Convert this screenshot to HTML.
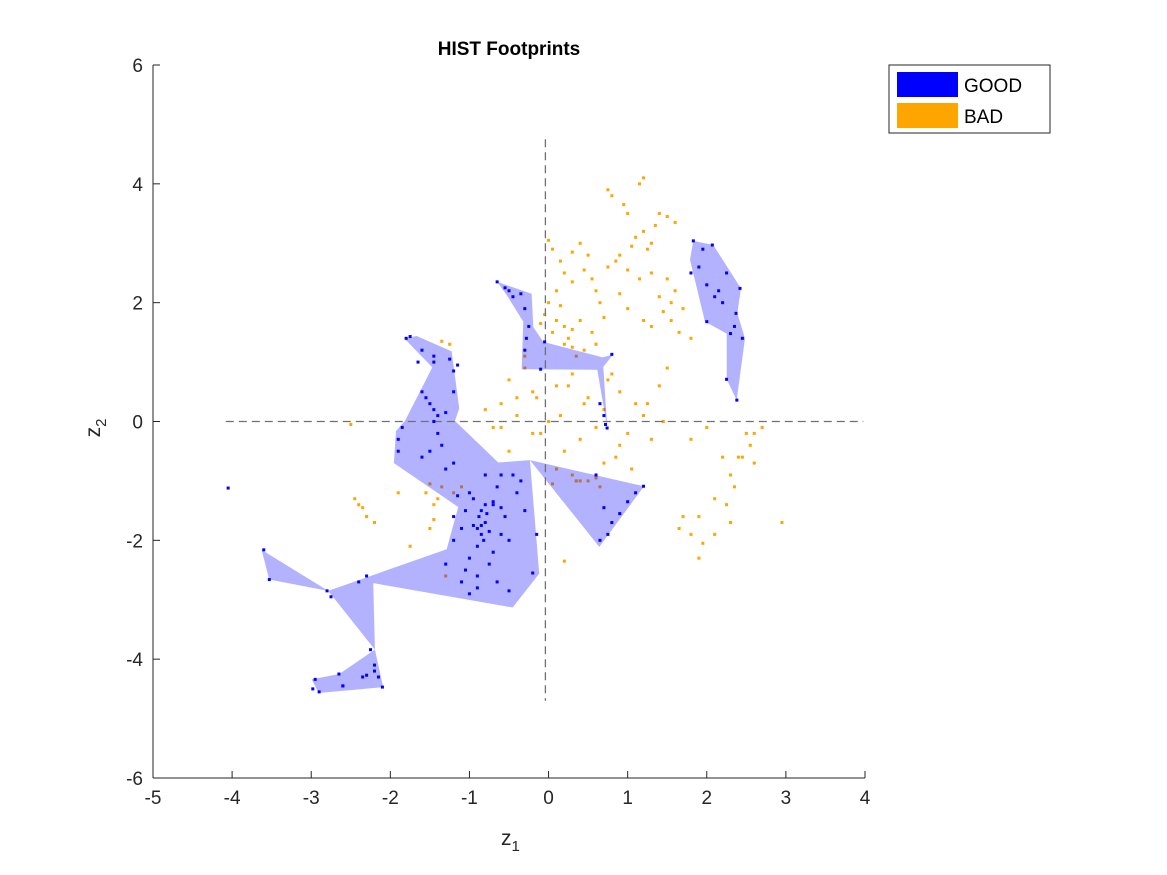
<!DOCTYPE html>
<html><head><meta charset="utf-8"><style>
html,body{margin:0;padding:0;background:#fff;}
svg{display:block;font-family:"Liberation Sans",sans-serif;}
</style></head><body>
<svg id="chart" width="1167" height="875" viewBox="0 0 1167 875">
<text x="509" y="55" text-anchor="middle" font-size="19" font-weight="bold">HIST Footprints</text>
<g id="plot"></g>
<g id="axes"></g>
<text x="501" y="845" font-size="21" fill="#262626">z<tspan font-size="15" dy="6">1</tspan></text>
<text transform="translate(100,428) rotate(-90)" font-size="21" fill="#262626" text-anchor="middle">z<tspan font-size="15" dy="6">2</tspan></text>
<g>
<rect x="889" y="65" width="161" height="68" fill="#fff" stroke="#262626" stroke-width="1"/>
<rect x="897" y="72" width="61" height="25" fill="#0000ff"/>
<text x="964" y="92" font-size="19" fill="#000">GOOD</text>
<rect x="897" y="103" width="61" height="25" fill="#ffa500"/>
<text x="964" y="123" font-size="19" fill="#000">BAD</text>
</g>
</svg>
<script>
const xTicks=[-5,-4,-3,-2,-1,0,1,2,3,4];
const yTicks=[-6,-4,-2,0,2,4,6];
const footprints=[
 [[-1.824,1.40],[-1.667,1.44],[-1.225,1.18],[-1.129,0.22],[-1.183,0.01],[-0.636,-0.69],[-0.235,-0.65],[-0.118,-2.56],[-0.454,-3.13],[-2.216,-2.72],[-2.195,-3.84],[-2.785,-2.85],[-1.288,-2.15],[-1.142,-1.44],[-1.955,-0.70],[-1.929,-0.16],[-1.815,0.01],[-1.470,0.91]],
 [[-3.627,-2.16],[-3.531,-2.66],[-2.785,-2.85]],
 [[-2.195,-3.84],[-2.09,-4.47],[-2.906,-4.57],[-2.995,-4.34],[-2.646,-4.25]],
 [[-0.649,2.35],[-0.214,2.15],[-0.193,1.59],[-0.067,1.34],[0.684,1.08],[0.818,1.13],[0.692,0.92],[0.742,-0.11],[0.616,0.87],[-0.340,0.88],[-0.320,1.68],[-0.530,2.13]],
 [[-0.235,-0.65],[1.206,-1.09],[0.641,-2.11]],
 [[1.829,3.04],[2.082,2.97],[2.432,2.24],[2.386,1.82],[2.483,1.40],[2.378,0.36],[2.252,0.71],[2.252,1.48],[1.977,1.68],[1.788,2.72]]
];
const badX=[1.2,1.15,0.8,0.95,1.0,0.75,1.4,1.5,1.6,1.35,1.2,1.1,1.3,1.25,1.05,0.9,0.85,0.75,1.0,1.15,1.3,1.5,1.6,1.4,1.55,1.7,1.45,1.3,1.55,1.65,1.8,1.2,1.0,0.9,0.65,0.7,0.6,0.55,0.45,0.5,0.3,0.4,
 0.0,0.05,0.15,0.2,0.3,0.1,0.0,0.15,-0.05,0.1,0.2,0.3,0.25,0.4,0.55,0.6,0.45,0.35,0.05,-0.1,0.2,
 -0.5,-0.3,-0.2,-0.6,-0.4,-0.1,0.1,0.3,0.5,0.7,0.9,1.1,1.2,0.8,0.6,0.4,0.2,0.0,-0.2,-0.4,-0.7,-0.8,-0.5,0.1,0.3,0.5,0.7,0.9,1.0,1.3,1.4,1.5,-0.3,-0.6,0.25,0.65,0.85,1.05,0.35,0.15,-0.15,0.45,0.75,1.25,1.45,
 2.4,2.6,2.7,2.5,2.55,2.6,2.45,2.3,2.35,2.25,2.3,2.1,1.9,1.9,1.95,1.8,1.65,1.7,2.95,2.1,2.2,1.8,2.0,
 -2.5,-2.45,-2.35,-2.3,-2.4,-2.2,-1.9,-1.75,-1.55,-1.45,-1.4,-1.45,-1.5,-1.2,-1.1,-1.35,-1.5,-1.3,-1.25,-1.35,0.3,0.2,0.4,0.6,0.35,0.05];
const badY=[4.1,4.0,3.8,3.65,3.5,3.9,3.5,3.45,3.35,3.3,3.2,3.1,3.0,2.9,2.95,2.8,2.7,2.6,2.55,2.4,2.5,2.4,2.2,2.1,2.0,1.9,1.85,1.6,1.7,1.5,1.4,1.7,1.9,2.15,2.0,1.75,2.2,2.4,2.55,2.8,2.85,3.0,
 3.05,2.9,2.7,2.5,2.35,2.2,2.0,1.95,1.8,1.7,1.6,1.55,1.4,1.7,1.5,1.3,1.2,1.1,1.5,1.65,1.3,
 0.7,0.9,0.5,0.3,0.1,-0.2,0.6,0.8,0.4,0.2,0.5,0.3,0.1,0.8,-0.1,-0.3,-0.5,0.0,-0.2,0.4,-0.1,0.2,-0.5,-0.8,-0.9,-1.0,-0.7,-0.4,-0.2,-0.3,0.6,0.9,1.1,-0.1,0.6,-1.1,-0.6,-0.8,-1.0,0.1,0.4,0.3,0.7,0.3,0.0,-0.6,
 -0.2,-0.1,-0.2,-0.4,-0.7,-0.6,-0.9,-1.1,-1.4,-1.7,-1.9,-1.6,-2.3,-2.05,-1.9,-1.8,-1.6,-1.7,-1.3,-0.6,-0.3,-0.1,-0.05,
 -1.3,-1.45,-1.6,-1.4,-1.7,-1.2,-2.1,-1.2,-1.4,-1.3,-1.65,-1.8,-1.2,-1.1,-1.1,-1.05,-2.6,1.3,1.35,1.25,-2.35,-1.0,-0.95,-1.0,-1.05,-0.85];
const goodX=[-0.85,-0.9,-0.8,-0.85,-0.95,-0.75,-0.82,-0.88,-0.9,-0.78,-0.85,-0.8,-0.95,-1.0,-1.05,-0.7,-0.65,-0.6,-1.1,-1.15,-0.7,-0.6,-0.5,-0.55,-1.0,-1.05,-0.9,-0.75,-0.4,-0.3,-0.35,-0.45,-1.2,-1.3,-0.5,-0.2,-0.15,-0.65,-0.9,-1.0,-1.1,-1.2,-0.6,-0.8,-0.7,
 -1.5,-1.45,-1.4,-1.55,-1.6,-1.85,-1.9,-1.9,-1.6,-1.5,-1.35,-1.2,-1.3,-1.45,-1.4,-1.2,-1.15,-1.6,-1.65,
 -1.8,-1.75,-1.45,-1.45,-1.25,-1.2,-1.3,
 -3.6,-3.53,-2.8,-2.75,-2.3,-2.4,-2.25,-2.2,-2.2,-2.15,-2.1,-2.3,-2.35,-2.6,-2.65,-2.95,-2.98,-2.9,-2.6,-4.05,
 -0.65,-0.55,-0.5,-0.45,-0.35,-0.3,-0.25,-0.28,-0.3,-0.05,-0.1,0.65,0.7,0.72,0.74,0.8,0.6,
 1.2,1.1,1.0,0.9,0.8,0.75,0.65,0.7,
 1.83,2.07,2.42,2.37,2.45,2.38,2.25,2.3,2.0,1.8,1.9,2.0,2.1,2.2,2.25,2.35,1.95,2.15];
const goodY=[-1.75,-1.8,-1.7,-1.9,-1.75,-1.85,-2.0,-1.6,-2.1,-1.55,-1.5,-1.4,-1.3,-1.2,-1.5,-1.35,-1.1,-1.45,-1.8,-1.25,-2.2,-1.9,-2.0,-1.6,-2.3,-2.5,-2.6,-2.4,-1.2,-1.5,-1.0,-0.9,-2.0,-2.4,-2.85,-2.55,-1.9,-2.7,-2.8,-2.9,-2.7,-1.6,-0.9,-0.9,-1.4,
 0.3,0.2,0.1,0.4,0.5,-0.1,-0.3,-0.5,-0.6,-0.5,-0.4,-0.7,-0.8,0.0,-0.2,0.5,0.95,1.2,1.0,
 1.4,1.43,1.1,1.0,1.05,0.85,0.15,
 -2.16,-2.66,-2.85,-2.95,-2.6,-2.7,-3.84,-4.1,-4.2,-4.3,-4.47,-4.27,-4.3,-4.45,-4.25,-4.34,-4.5,-4.55,-4.45,-1.12,
 2.35,2.25,2.2,2.1,2.15,1.9,1.6,1.4,1.2,1.34,0.88,0.3,0.1,-0.05,-0.11,1.13,-0.9,
 -1.09,-1.2,-1.35,-1.55,-1.7,-1.9,-2.0,-1.45,
 3.04,2.97,2.24,1.82,1.40,0.36,0.71,1.48,1.68,2.5,2.6,2.3,2.1,2.0,2.5,1.6,2.9,2.2];

const NS="http://www.w3.org/2000/svg";
const X0=153,X1=865,Y0=778,Y1=65;
const xs=v=>X0+(v-(-5))/9*(X1-X0);
const ys=v=>Y0-(v-(-6))/12*(Y0-Y1);
const plot=document.getElementById('plot'),axes=document.getElementById('axes');
function mk(tag,attrs,parent){const e=document.createElementNS(NS,tag);for(const k in attrs)e.setAttribute(k,attrs[k]);parent.appendChild(e);return e;}
// bad points
for(let i=0;i<badX.length;i++){
 const r=mk('rect',{x:xs(badX[i])-1.5,y:ys(badY[i])-1.5,width:3,height:3,fill:'#ffa500'},plot);
 
 
}
// footprints
footprints.forEach(p=>{
 const pg=mk('polygon',{points:p.map(q=>xs(q[0])+','+ys(q[1])).join(' '),fill:'#0000ff','fill-opacity':0.3,stroke:'none'},plot);
 
 
});
// dashed lines
const h=mk('line',{x1:xs(-4.08),x2:xs(3.98),y1:ys(0),y2:ys(0),stroke:'#707070','stroke-width':1.3,'stroke-dasharray':'8 5'},plot);


const v=mk('line',{x1:xs(-0.04),x2:xs(-0.04),y1:ys(4.75),y2:ys(-4.7),stroke:'#707070','stroke-width':1.3,'stroke-dasharray':'8 5'},plot);


// good points
for(let i=0;i<goodX.length;i++){
 const r=mk('rect',{x:xs(goodX[i])-1.5,y:ys(goodY[i])-1.5,width:3,height:3,fill:'#0000ff'},plot);
 
 
}
// axes
const xa=mk('line',{x1:X0,x2:X1,y1:Y0,y2:Y0,stroke:'#262626','stroke-width':1},axes);


const ya=mk('line',{x1:X0,x2:X0,y1:Y0,y2:Y1,stroke:'#262626','stroke-width':1},axes);


xTicks.forEach(t=>{
 mk('line',{x1:xs(t),x2:xs(t),y1:Y0,y2:Y0-7,stroke:'#262626'},axes);
 const tx=mk('text',{x:xs(t),y:Y0+26,'text-anchor':'middle','font-size':19,fill:'#262626'},axes);
 tx.textContent=String(t);
 
 
});
yTicks.forEach(t=>{
 mk('line',{x1:X0,x2:X0+7,y1:ys(t),y2:ys(t),stroke:'#262626'},axes);
 const tx=mk('text',{x:X0-10,y:ys(t)+7,'text-anchor':'end','font-size':19,fill:'#262626'},axes);
 tx.textContent=String(t);
 
 
});
</script>
</body></html>
